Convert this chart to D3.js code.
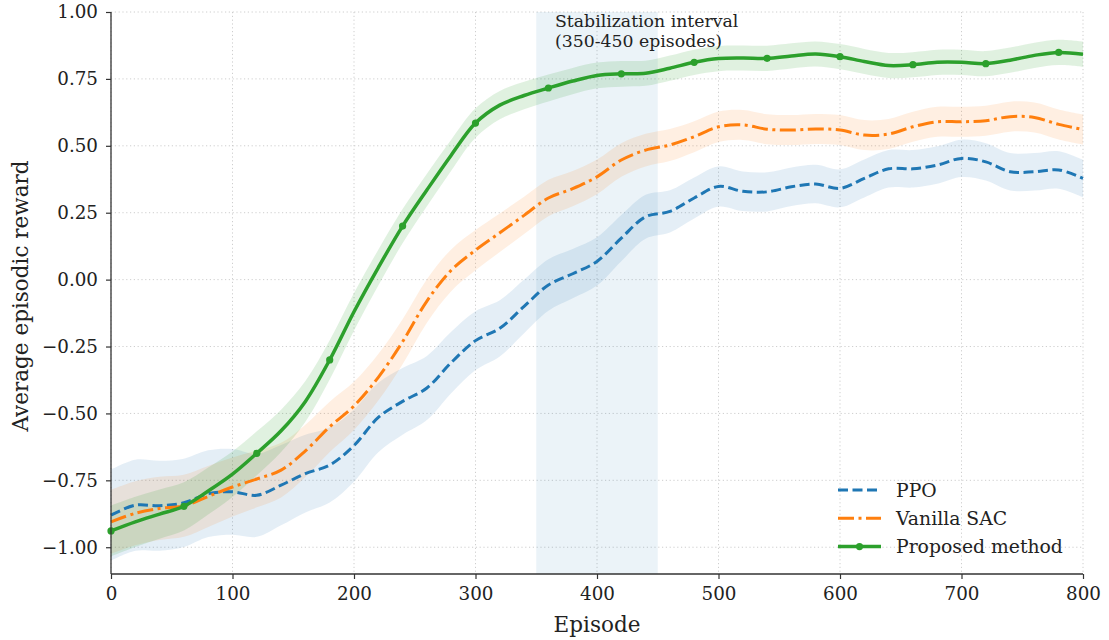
<!DOCTYPE html>
<html>
<head>
<meta charset="utf-8">
<script src="https://cdn.jsdelivr.net/npm/d3@7"></script>
<style>
    body { margin: 0; background: #fff; }
    svg { display: block; font-family: "DejaVu Serif", serif; }
</style>
</head>
<body>
<div id="chart"></div>
<script>
// episodes sampled every 20
const episodes = [0, 20, 40, 60, 80, 100, 120, 140, 160, 180, 200, 220, 240, 260, 280, 300, 320, 340, 360, 380,
    400, 420, 440, 460, 480, 500, 520, 540, 560, 580, 600, 620, 640, 660, 680, 700, 720, 740, 760, 780, 800];

const ppo = [-0.88, -0.843, -0.845, -0.834, -0.80, -0.793, -0.806, -0.768, -0.725, -0.693, -0.62, -0.515, -0.455,
    -0.405, -0.31, -0.228, -0.182, -0.10, -0.02, 0.022, 0.068, 0.155, 0.235, 0.255, 0.305, 0.348, 0.33, 0.328,
    0.347, 0.357, 0.341, 0.378, 0.414, 0.414, 0.428, 0.453, 0.44, 0.403, 0.403, 0.41, 0.378];
const sac = [-0.905, -0.873, -0.855, -0.845, -0.81, -0.775, -0.745, -0.712, -0.64, -0.55, -0.472, -0.365, -0.232,
    -0.08, 0.035, 0.11, 0.175, 0.24, 0.305, 0.34, 0.384, 0.447, 0.484, 0.503, 0.534, 0.571, 0.578, 0.562,
    0.559, 0.563, 0.559, 0.54, 0.544, 0.571, 0.59, 0.59, 0.594, 0.609, 0.606, 0.58, 0.561];
const proposed = [-0.939, -0.905, -0.876, -0.847, -0.79, -0.727, -0.649, -0.565, -0.455, -0.30, -0.12, 0.045, 0.20,
    0.335, 0.465, 0.585, 0.652, 0.688, 0.716, 0.742, 0.763, 0.769, 0.771, 0.79, 0.812, 0.826, 0.828, 0.827,
    0.836, 0.843, 0.833, 0.815, 0.80, 0.803, 0.812, 0.812, 0.807, 0.82, 0.838, 0.849, 0.842];

// half width of the shaded bands
const ppoStd = [0.17, 0.17, 0.168, 0.165, 0.162, 0.16, 0.155, 0.15, 0.145, 0.14, 0.135, 0.13, 0.125, 0.12, 0.115,
    0.11, 0.105, 0.10, 0.096, 0.092, 0.09, 0.086, 0.082, 0.079, 0.077, 0.075, 0.074, 0.073, 0.072, 0.072, 0.071,
    0.071, 0.07, 0.07, 0.07, 0.07, 0.07, 0.07, 0.07, 0.07, 0.07];
const sacStd = [0.12, 0.12, 0.118, 0.116, 0.114, 0.11, 0.106, 0.102, 0.098, 0.094, 0.09, 0.087, 0.084, 0.081, 0.078,
    0.075, 0.072, 0.07, 0.068, 0.066, 0.065, 0.063, 0.061, 0.06, 0.058, 0.057, 0.056, 0.056, 0.056, 0.056, 0.056,
    0.056, 0.056, 0.056, 0.056, 0.056, 0.056, 0.056, 0.056, 0.056, 0.056];
const proposedStd = [0.095, 0.094, 0.092, 0.09, 0.088, 0.085, 0.082, 0.079, 0.076, 0.073, 0.07, 0.067, 0.064, 0.061,
    0.058, 0.055, 0.053, 0.051, 0.05, 0.049, 0.048, 0.048, 0.047, 0.047, 0.047, 0.047, 0.047, 0.047, 0.047, 0.047,
    0.047, 0.047, 0.047, 0.047, 0.047, 0.047, 0.047, 0.047, 0.047, 0.047, 0.047];

const xTicks = [0, 100, 200, 300, 400, 500, 600, 700, 800];
const yTicks = [-1.00, -0.75, -0.50, -0.25, 0.00, 0.25, 0.50, 0.75, 1.00];
const stabilization = [350, 450];
const markerEvery = 3;

const series = [
    {name: "PPO", values: ppo, std: ppoStd, color: "#1f77b4", dash: "10,4.5", width: 3, bandAlpha: 0.12},
    {name: "Vanilla SAC", values: sac, std: sacStd, color: "#ff7f0e", dash: "16,4.5,3,4.5", width: 3, bandAlpha: 0.12},
    {name: "Proposed method", values: proposed, std: proposedStd, color: "#2ca02c", dash: null, width: 3.5, bandAlpha: 0.15, markers: true}
];

const width = 1109, height = 640;
const plotLeft = 111, plotRight = 1083, plotTop = 12, plotBottom = 574;

const svg = d3.select("#chart")
    .append("svg")
    .attr("width", width)
    .attr("height", height);

const x = d3.scaleLinear().domain([0, 800]).range([plotLeft, plotRight]);
const y = d3.scaleLinear().domain([-1.1, 1.0]).range([plotBottom, plotTop]);

// grid
svg.append("g")
    .selectAll("line")
    .data(xTicks)
    .enter()
    .append("line")
    .attr("x1", d => x(d)).attr("x2", d => x(d))
    .attr("y1", plotTop).attr("y2", plotBottom)
    .style("stroke", "#c8c8c8")
    .style("stroke-width", 0.9)
    .style("stroke-dasharray", "1.2,2.6");
svg.append("g")
    .selectAll("line")
    .data(yTicks)
    .enter()
    .append("line")
    .attr("x1", plotLeft).attr("x2", plotRight)
    .attr("y1", d => y(d)).attr("y2", d => y(d))
    .style("stroke", "#c8c8c8")
    .style("stroke-width", 0.9)
    .style("stroke-dasharray", "1.2,2.6");

// stabilization interval
svg.append("rect")
    .attr("x", x(stabilization[0]))
    .attr("y", plotTop)
    .attr("width", x(stabilization[1]) - x(stabilization[0]))
    .attr("height", plotBottom - plotTop)
    .style("fill", "#1f77b4")
    .style("opacity", 0.09);

svg.append("text")
    .attr("x", 555)
    .attr("y", 27)
    .style("font-size", "17.3px")
    .style("fill", "#222")
    .text("Stabilization interval");
svg.append("text")
    .attr("x", 555)
    .attr("y", 47)
    .style("font-size", "17.3px")
    .style("fill", "#222")
    .text("(350-450 episodes)");

const curve = d3.curveCatmullRom.alpha(0.5);

series.forEach(s => {
    const area = d3.area()
        .x((d, i) => x(episodes[i]))
        .y0((d, i) => y(d - s.std[i]))
        .y1((d, i) => y(d + s.std[i]))
        .curve(curve);
    svg.append("path")
        .datum(s.values)
        .attr("d", area)
        .style("fill", s.color)
        .style("opacity", s.bandAlpha);
});

series.forEach(s => {
    const line = d3.line()
        .x((d, i) => x(episodes[i]))
        .y(d => y(d))
        .curve(curve);
    svg.append("path")
        .datum(s.values)
        .attr("d", line)
        .style("fill", "none")
        .style("stroke", s.color)
        .style("stroke-width", s.width)
        .style("stroke-dasharray", s.dash)
        .style("stroke-linejoin", "round");
    if (s.markers) {
        svg.append("g")
            .selectAll("circle")
            .data(s.values.filter((d, i) => i % markerEvery === 0))
            .enter()
            .append("circle")
            .attr("cx", (d, i) => x(episodes[i * markerEvery]))
            .attr("cy", d => y(d))
            .attr("r", 3.6)
            .style("fill", s.color);
    }
});

// axes
const xAxis = svg.append("g")
    .attr("transform", `translate(0,${plotBottom})`)
    .call(d3.axisBottom(x).tickValues(xTicks).tickSize(5).tickPadding(8).tickFormat(d3.format("d")));
const yAxis = svg.append("g")
    .attr("transform", `translate(${plotLeft},0)`)
    .call(d3.axisLeft(y).tickValues(yTicks).tickSize(5).tickPadding(8).tickFormat(d3.format(".2f")));

[xAxis, yAxis].forEach(a => {
    a.select(".domain").style("stroke", "#333").style("stroke-width", 1.3);
    a.selectAll(".tick line").style("stroke", "#333").style("stroke-width", 1.2);
    a.selectAll(".tick text")
        .style("font-family", "DejaVu Serif, serif")
        .style("font-size", "18.3px")
        .style("fill", "#222");
});
// spines only as far as the data limits
xAxis.select(".domain").attr("d", `M${plotLeft},0H${plotRight}`);
yAxis.select(".domain").attr("d", `M0,${plotBottom}V${plotTop}`);

svg.append("text")
    .attr("x", (plotLeft + plotRight) / 2)
    .attr("y", 632)
    .attr("text-anchor", "middle")
    .style("font-size", "21.5px")
    .style("fill", "#222")
    .text("Episode");
svg.append("text")
    .attr("transform", `translate(28,${(plotTop + plotBottom) / 2 + 3})rotate(-90)`)
    .attr("text-anchor", "middle")
    .style("font-size", "21.5px")
    .style("fill", "#222")
    .text("Average episodic reward");

// legend
const legend = svg.append("g").attr("transform", "translate(838,490)");
series.forEach((s, i) => {
    const row = legend.append("g").attr("transform", `translate(0,${i * 28.3})`);
    row.append("line")
        .attr("x1", 0).attr("x2", 43)
        .attr("y1", 0).attr("y2", 0)
        .style("stroke", s.color)
        .style("stroke-width", s.width)
        .style("stroke-dasharray", s.dash);
    if (s.markers) {
        row.append("circle").attr("cx", 21.5).attr("cy", 0).attr("r", 3.6).style("fill", s.color);
    }
    row.append("text")
        .attr("x", 58)
        .attr("y", 6.5)
        .style("font-size", "18.8px")
        .style("fill", "#222")
        .text(s.name);
});
</script>
</body>
</html>
